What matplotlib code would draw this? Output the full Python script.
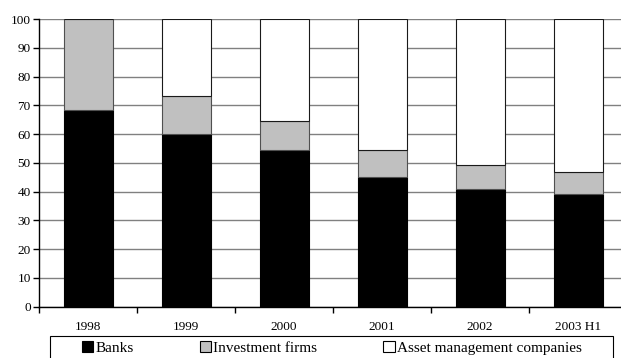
import matplotlib.pyplot as plt
import matplotlib.patches as mpatches
import numpy as np

plt.rcParams['font.family'] = ['Liberation Serif', 'DejaVu Serif']

# --- data ---
years = ['1998', '1999', '2000', '2001', '2002', '2003 H1']
banks = [68.5, 60.2, 54.6, 45.0, 41.0, 39.1]
invest_top = [100.0, 73.4, 64.5, 54.5, 49.4, 46.7]
labels = ['Banks', 'Investment firms', 'Asset management companies']

invest = [t - b for t, b in zip(invest_top, banks)]
asset = [100 - t for t in invest_top]

fig = plt.figure(figsize=(6.21, 3.58), dpi=100)
# axes deliberately runs past the right edge, as in the reference
ax = fig.add_axes([39 / 621, 1 - 306.7 / 358, 588 / 621, 287.7 / 358])

x = np.arange(len(years))
w = 0.5
ax.bar(x, banks, w, color='black', edgecolor='black', linewidth=0.8, label=labels[0], zorder=3)
ax.bar(x, invest, w, bottom=banks, color='#c0c0c0', edgecolor='#505050', linewidth=0.8,
       label=labels[1], zorder=3)
ax.bar(x, asset, w, bottom=invest_top, color='white', edgecolor='#1a1a1a', linewidth=0.8,
       label=labels[2], zorder=3)

ax.set_xlim(-0.5, len(years) - 0.5)
ax.set_ylim(0, 100)
ax.set_yticks(np.arange(0, 101, 10))
ax.yaxis.grid(True, color='#808080', linewidth=1.0, zorder=0)
ax.set_axisbelow(True)

ax.set_xticks(x)
ax.set_xticklabels(years, fontsize=9.5)
ax.set_xticks(np.arange(-0.5, len(years), 1.0), minor=True)
ax.tick_params(axis='x', which='major', length=0, pad=10)
ax.tick_params(axis='x', which='minor', length=4, width=1, direction='out', color='black')
ax.tick_params(axis='y', length=4, width=1, direction='out', labelsize=9.5, pad=2)

for s in ['top', 'right']:
    ax.spines[s].set_visible(False)
ax.spines['left'].set_linewidth(1)
ax.spines['bottom'].set_linewidth(1)

# legend box at the bottom
box = mpatches.Rectangle((50 / 621, -0.02), 563 / 621, 1 - 336 / 358 + 0.02,
                         transform=fig.transFigure, facecolor='white',
                         edgecolor='black', linewidth=0.8)
fig.patches.append(box)
handles, hl = ax.get_legend_handles_labels()
leg = fig.legend(handles, hl, loc='center left', bbox_to_anchor=(82 / 621, 1 - 348 / 358),
                 ncol=3, fontsize=11, frameon=False, handlelength=0.75, handleheight=0.75,
                 handletextpad=0.15, columnspacing=4.3, borderpad=0, borderaxespad=0)
for p in leg.get_patches():
    p.set_edgecolor('black')
    p.set_linewidth(0.8)

fig.savefig('out.png', dpi=100)
